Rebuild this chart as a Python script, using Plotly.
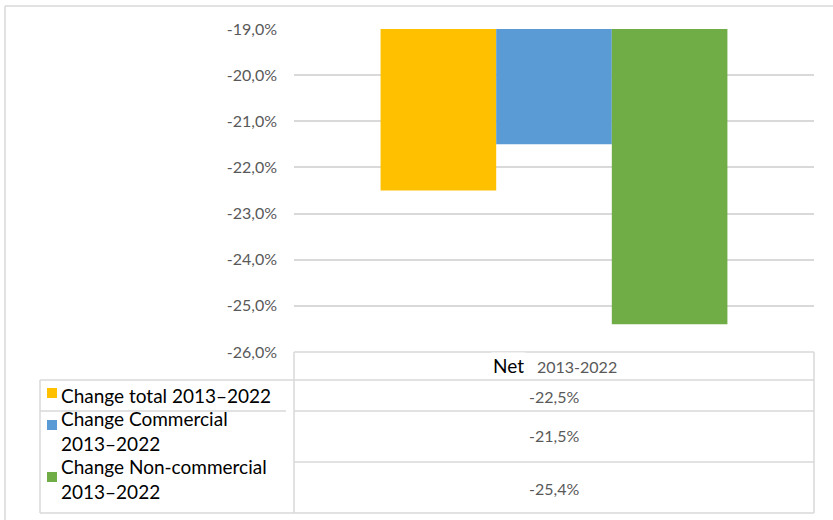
import plotly.graph_objects as go

categories = ["2013-2022"]
series_names = ["Change total 2013\u20132022", "Change Commercial 2013\u20132022", "Change Non-commercial 2013\u20132022"]
legend_labels = ["Change total 2013\u20132022", "Change Commercial<br>2013\u20132022", "Change Non-commercial<br>2013\u20132022"]
values = [-22.5, -21.5, -25.4]
value_labels = ["-22,5%", "-21,5%", "-25,4%"]
colors = ["#FFC000", "#5B9BD5", "#70AD47"]
y_ticks = [-19, -20, -21, -22, -23, -24, -25, -26]
y_tick_labels = ["-19,0%", "-20,0%", "-21,0%", "-22,0%", "-23,0%", "-24,0%", "-25,0%", "-26,0%"]

W, H = 833, 520
L, R, T, B = 294, 19, 29, 168
PW, PH = W - L - R, H - T - B

def px(x):
    return (x - L) / PW

def py(y):
    return (H - B - y) / PH

FONT = "Lato"
GRID = "#d9d9d9"

fig = go.Figure()
for name, v, c in zip(series_names, values, colors):
    fig.add_trace(go.Bar(x=categories, y=[v], name=name, marker=dict(color=c, line=dict(width=0)),
                         showlegend=False, hoverinfo="skip"))

shapes = []
def line(x0, y0, x1, y1, color=GRID, w=1.5):
    shapes.append(dict(type="line", xref="paper", yref="paper", x0=px(x0), y0=py(y0), x1=px(x1), y1=py(y1),
                       line=dict(color=color, width=w), layer="above"))

# outer chart border (top/left)
line(5, 6, 833, 6)
line(5, 6, 5, 520)
# table: value column
line(294, 352, 814, 352)
line(294, 352, 294, 513)
line(814, 352, 814, 513)
line(294, 380, 814, 380)
line(294, 411, 814, 411)
line(294, 462, 814, 462)
line(294, 513, 814, 513)
# legend column
line(40, 380, 294, 380)
line(40, 380, 40, 513)
line(40, 411, 286, 411)
line(40, 513, 294, 513)

annotations = []
# header
annotations.append(dict(x=px(577), y=py(366), xref="paper", yref="paper", text=categories[0], showarrow=False,
                        font=dict(family=FONT, size=16, color="#595959"), xanchor="center", yanchor="middle"))
annotations.append(dict(x=px(508), y=py(365), xref="paper", yref="paper", text="Net", showarrow=False,
                        font=dict(family=FONT, size=19, color="#000000"), bgcolor="white",
                        xanchor="center", yanchor="middle"))

row_centers = [396, 435, 488]
sq_centers = [393, 425, 477]
text_centers = [395, 431, 479]
for i in range(3):
    annotations.append(dict(x=px(554), y=py(row_centers[i]), xref="paper", yref="paper",
                            text=value_labels[i], showarrow=False,
                            font=dict(family=FONT, size=16, color="#595959"), xanchor="center", yanchor="middle"))
    annotations.append(dict(x=px(59), y=py(text_centers[i]), xref="paper", yref="paper",
                            text=legend_labels[i], showarrow=False, align="left",
                            font=dict(family=FONT, size=19, color="#000000"), xanchor="left", yanchor="middle"))
    shapes.append(dict(type="rect", xref="paper", yref="paper", x0=px(47), x1=px(57),
                       y0=py(sq_centers[i] - 5), y1=py(sq_centers[i] + 5),
                       fillcolor=colors[i], line=dict(width=0), layer="above"))

fig.update_layout(
    width=W, height=H,
    margin=dict(l=L, r=R, t=T, b=B, pad=0),
    paper_bgcolor="white", plot_bgcolor="white",
    barmode="group", bargap=0.333, bargroupgap=0,
    font=dict(family=FONT),
    xaxis=dict(showticklabels=False, showgrid=False, zeroline=False, showline=False, ticks=""),
    yaxis=dict(range=[-26, -19], tickvals=y_ticks, ticktext=y_tick_labels,
               showgrid=True, gridcolor=GRID, gridwidth=1.5, zeroline=False, showline=False,
               tickfont=dict(family=FONT, size=16, color="#595959"), ticklabelstandoff=16),
    shapes=shapes, annotations=annotations,
)

fig.write_html("out.html", config={"displayModeBar": False},
               post_script="document.body.style.margin='0';document.body.style.overflow='hidden';")
